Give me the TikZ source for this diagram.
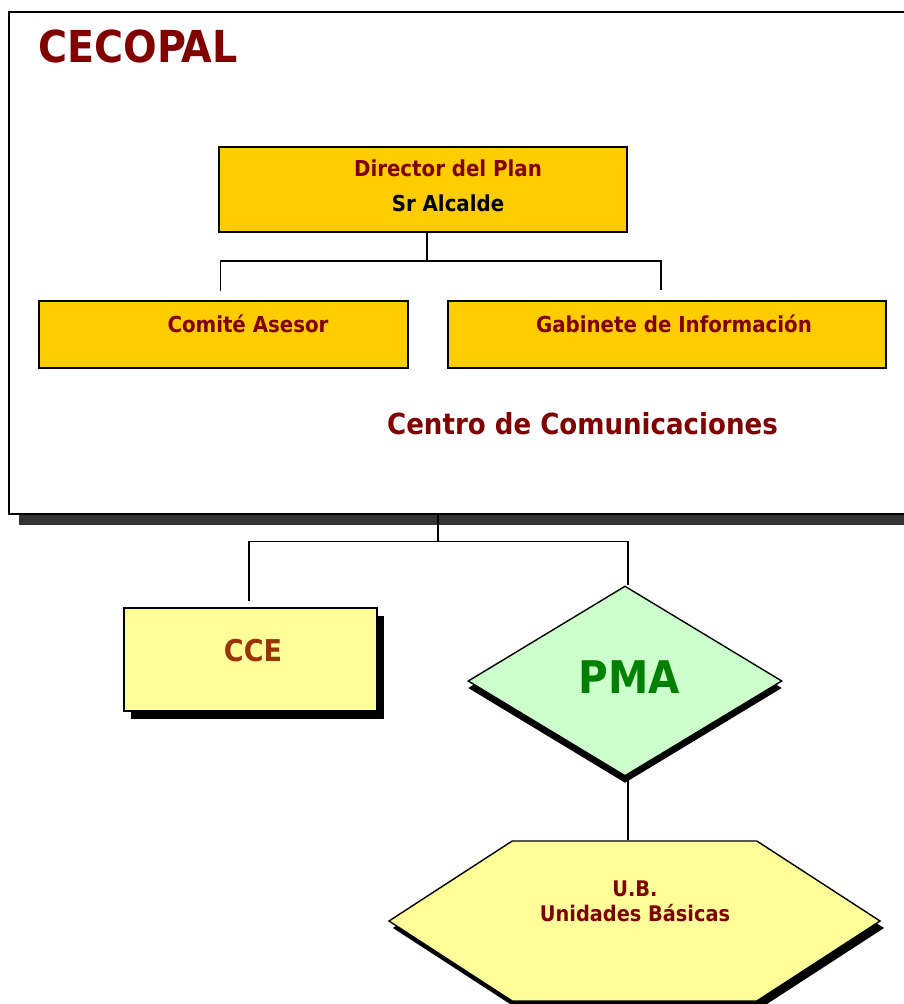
\documentclass[tikz,border=0pt]{standalone}
\usepackage{fontspec}
\setmainfont{DejaVu Sans Condensed}
\usetikzlibrary{shapes.geometric,shapes.symbols,shadows}

\definecolor{cecored}{HTML}{800000}
\definecolor{cecogold}{HTML}{FFCC00}
\definecolor{cecoyellow}{HTML}{FFFF99}
\definecolor{cecobrown}{HTML}{993300}
\definecolor{cecomint}{HTML}{CCFFCC}
\definecolor{cecogreen}{HTML}{008000}

\tikzset{
  conn/.style={line width=1.4pt},
  goldbox/.style={draw, line width=1.6pt, fill=cecogold, inner sep=0pt},
  txt/.style={anchor=base, inner sep=0pt, font=\bfseries\fontsize{#1}{#1}\selectfont},
}

\begin{document}
\begin{tikzpicture}[x=1pt,y=-1pt]
  \useasboundingbox (0,0) rectangle (904,1004);

  \node[draw, line width=1.5pt, fill=white, minimum width=905pt, minimum height=502pt,
        drop shadow={shadow xshift=10pt, shadow yshift=-11pt, fill=black!80, opacity=1}]
        (cecopal) at (461.5,263) {};
  \node[txt=44, anchor=base west, text=cecored] (titulo) at (38,62) {CECOPAL};

  \node[goldbox, minimum width=408pt, minimum height=85pt] (dir) at (423,189.5) {};
  \node[goldbox, minimum width=369pt, minimum height=67pt] (comite) at (223.5,334.5) {};
  \node[goldbox, minimum width=438pt, minimum height=67pt] (gab) at (667,334.5) {};

  \node[txt=22, text=cecored] (dirtxt) at (448,176.5) {Director del Plan};
  \node[txt=22] (alcalde) at (448,211.5) {Sr Alcalde};
  \node[txt=22, text=cecored] (comitetxt) at (248,332.5) {Comité Asesor};
  \node[txt=22, text=cecored] (gabtxt) at (674,332) {Gabinete de Información};
  \node[txt=29, text=cecored] (centro) at (582.5,434) {Centro de Comunicaciones};

  \draw[conn] ([xshift=4pt]dir.south) -- ++(0,28) coordinate (dirbus);
  \draw[conn] ([shift={(-3,-9)}]comite.north) |- (dirbus) -| ([shift={(-6,-10)}]gab.north);

  % parte inferior
  \node[draw, line width=1.6pt, fill=cecoyellow, minimum width=253pt, minimum height=103pt, inner sep=0pt,
        drop shadow={shadow xshift=7pt, shadow yshift=-8pt, fill=black, opacity=1}]
        (cce) at (250.5,659.5) {};
  \node[diamond, draw, line width=1.4pt, fill=cecomint, minimum width=314pt, minimum height=190pt, inner sep=0pt,
        drop shadow={shadow xshift=0pt, shadow yshift=-7pt, fill=black, opacity=1}]
        (pma) at (625,681) {};
  \node[signal, signal to=west and east, signal pointer angle=66, draw, line width=1.4pt, fill=cecoyellow,
        minimum width=491pt, minimum height=160pt, inner sep=0pt,
        drop shadow={shadow xshift=4pt, shadow yshift=-7pt, fill=black, opacity=1}]
        (ub) at (634.5,921) {};

  \node[txt=30, text=cecobrown] (ccetxt) at (253,661) {CCE};
  \node[txt=45, text=cecogreen] (pmatxt) at (629,693) {PMA};
  \node[txt=21.5, text=cecored] (ubtxt) at (635,896) {U.B.};
  \node[txt=21.5, text=cecored] (unidades) at (635,921) {Unidades Básicas};

  \draw[conn] ([xshift=-23.5pt]cecopal.south) -- ++(0,27) coordinate (fbus);
  \draw[conn] ([shift={(-1.5,-6)}]cce.north) |- (fbus) -| ([xshift=3pt]pma.north);
  \coordinate (pmab) at ([xshift=3pt]pma.south);
  \draw[conn] (pmab) -- (pmab |- ub.north);
\end{tikzpicture}
\end{document}
